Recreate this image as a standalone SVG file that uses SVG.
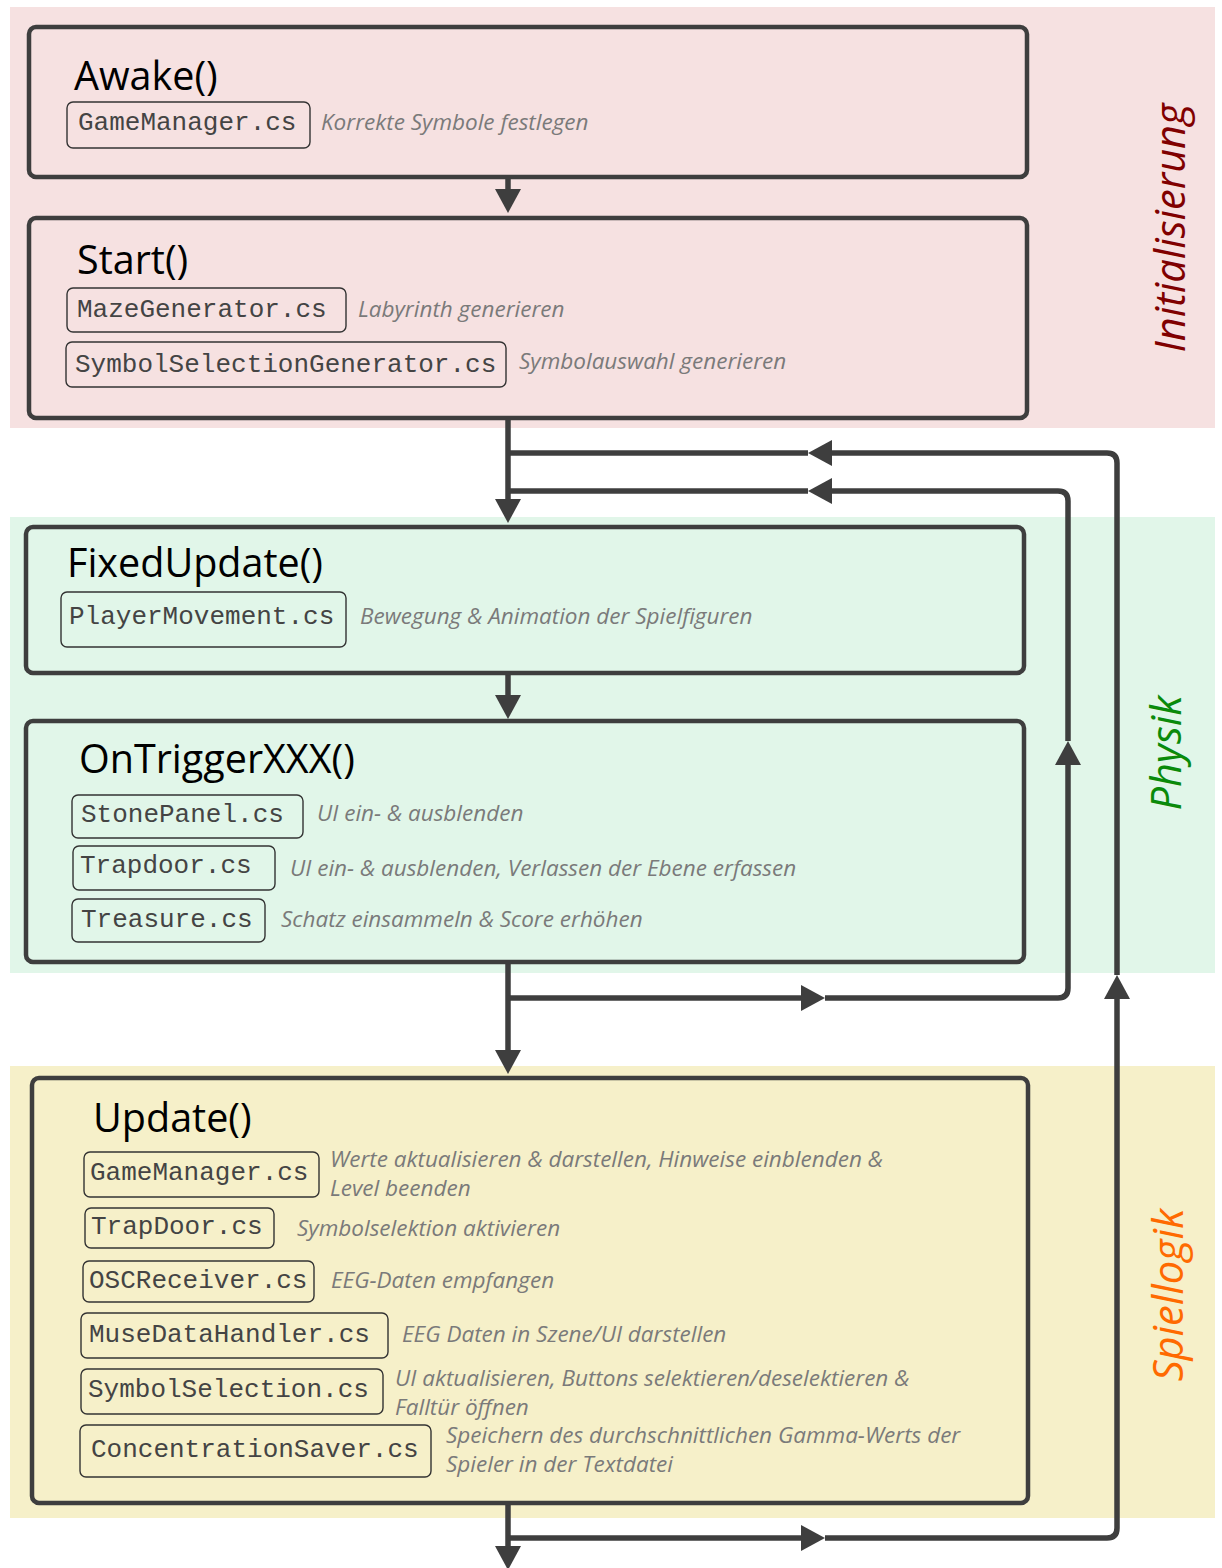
<svg xmlns="http://www.w3.org/2000/svg" width="1222" height="1568" viewBox="0 0 1222 1568">
<style>
.band-init{fill:#f6e1e1}
.band-phys{fill:#e1f6e9}
.band-logic{fill:#f6f0c9}
.box{fill:none;stroke:#3e3e3e;stroke-width:4.5}
.code{fill:none;stroke:#333;stroke-width:1.4}
.title{font-family:"Open Sans","Noto Sans",sans-serif;font-size:39.5px;fill:#000}
.mono{font-family:"Liberation Mono","Courier New",monospace;font-size:26px;fill:#444}
.desc{font-family:"Open Sans","Noto Sans",sans-serif;font-size:22.5px;font-style:italic;fill:#7a7a7a}
.side{font-family:"Open Sans","Noto Sans",sans-serif;font-size:41.5px;font-style:italic;text-anchor:middle}
.conn{fill:none;stroke:#3e3e3e;stroke-width:5.5}
</style>
<defs>
<marker id="arrow" markerUnits="userSpaceOnUse" markerWidth="26" markerHeight="26" refX="0" refY="13" orient="auto">
<path d="M0,0 L24,13 L0,26 z" fill="#3e3e3e"/>
</marker>
</defs>
<rect width="1222" height="1568" fill="#ffffff"/>
<g id="bands">
<rect class="band-init" x="10" y="7" width="1205" height="421"/>
<rect class="band-phys" x="10" y="517" width="1205" height="456"/>
<rect class="band-logic" x="10" y="1066" width="1205" height="452"/>
<text class="side" fill="#800000" transform="translate(1185,228) rotate(-90)">Initialisierung</text>
<text class="side" fill="#0a8a0a" transform="translate(1181,753) rotate(-90)">Physik</text>
<text class="side" fill="#ff6a00" transform="translate(1183,1295) rotate(-90)">Spiellogik</text>
</g>
<g id="connectors">
<path class="conn" d="M508,177 V189" marker-end="url(#arrow)"/>
<path class="conn" d="M508,418 V499" marker-end="url(#arrow)"/>
<path class="conn" d="M508,673 V695" marker-end="url(#arrow)"/>
<path class="conn" d="M508,962 V1050" marker-end="url(#arrow)"/>
<path class="conn" d="M508,1503 V1546" marker-end="url(#arrow)"/>
<path class="conn" d="M508,1538 H801" marker-end="url(#arrow)"/>
<path class="conn" d="M825,1538 H1107 Q1117,1538 1117,1528 V999" marker-end="url(#arrow)"/>
<path class="conn" d="M1117,975 V463 Q1117,453 1107,453 H832" marker-end="url(#arrow)"/>
<path class="conn" d="M808,453 H508"/>
<path class="conn" d="M508,998 H801" marker-end="url(#arrow)"/>
<path class="conn" d="M825,998 H1058 Q1068,998 1068,988 V765" marker-end="url(#arrow)"/>
<path class="conn" d="M1068,741 V501 Q1068,491 1058,491 H832" marker-end="url(#arrow)"/>
<path class="conn" d="M808,491 H508"/>
</g>
<g id="awake">
<rect class="box" x="29" y="27" width="998" height="150" rx="7"/>
<text class="title" x="74" y="90">Awake()</text>
<rect class="code" x="67" y="102" width="243" height="46" rx="6"/>
<text class="mono" x="78" y="130">GameManager.cs</text>
<text class="desc" x="321" y="130">Korrekte Symbole festlegen</text>
</g>
<g id="start">
<rect class="box" x="29" y="218" width="998" height="200" rx="7"/>
<text class="title" x="77" y="274">Start()</text>
<rect class="code" x="67" y="288" width="279" height="44" rx="6"/>
<text class="mono" x="77" y="317">MazeGenerator.cs</text>
<text class="desc" x="358" y="317">Labyrinth generieren</text>
<rect class="code" x="66" y="342" width="440" height="45" rx="6"/>
<text class="mono" x="75" y="372">SymbolSelectionGenerator.cs</text>
<text class="desc" x="519" y="369">Symbolauswahl generieren</text>
</g>
<g id="fixedupdate">
<rect class="box" x="26" y="527" width="998" height="146" rx="7"/>
<text class="title" x="67" y="577">FixedUpdate()</text>
<rect class="code" x="61" y="592" width="285" height="55" rx="6"/>
<text class="mono" x="69" y="624">PlayerMovement.cs</text>
<text class="desc" x="360" y="624">Bewegung &amp; Animation der Spielfiguren</text>
</g>
<g id="ontrigger">
<rect class="box" x="26" y="721" width="998" height="241" rx="7"/>
<text class="title" x="79" y="773">OnTriggerXXX()</text>
<rect class="code" x="72" y="795" width="231" height="43" rx="6"/>
<text class="mono" x="81" y="822">StonePanel.cs</text>
<text class="desc" x="317" y="821">UI ein- &amp; ausblenden</text>
<rect class="code" x="73" y="846" width="202" height="44" rx="6"/>
<text class="mono" x="80" y="873">Trapdoor.cs</text>
<text class="desc" x="290" y="876">UI ein- &amp; ausblenden, Verlassen der Ebene  erfassen</text>
<rect class="code" x="72" y="899" width="193" height="43" rx="6"/>
<text class="mono" x="81" y="927">Treasure.cs</text>
<text class="desc" x="281" y="927">Schatz einsammeln &amp; Score erhöhen</text>
</g>
<g id="update">
<rect class="box" x="32" y="1078" width="996" height="425" rx="7"/>
<text class="title" x="93" y="1132">Update()</text>
<rect class="code" x="84" y="1152" width="235" height="45" rx="6"/>
<text class="mono" x="90" y="1180">GameManager.cs</text>
<text class="desc" x="330" y="1167">Werte aktualisieren &amp; darstellen, Hinweise einblenden &amp;</text>
<text class="desc" x="330" y="1196">Level beenden</text>
<rect class="code" x="85" y="1208" width="189" height="40" rx="6"/>
<text class="mono" x="91" y="1234">TrapDoor.cs</text>
<text class="desc" x="297" y="1236">Symbolselektion aktivieren</text>
<rect class="code" x="83" y="1261" width="231" height="41" rx="6"/>
<text class="mono" x="89" y="1288">OSCReceiver.cs</text>
<text class="desc" x="331" y="1288">EEG-Daten empfangen</text>
<rect class="code" x="81" y="1313" width="307" height="45" rx="6"/>
<text class="mono" x="89" y="1342">MuseDataHandler.cs</text>
<text class="desc" x="402" y="1342">EEG Daten in Szene/UI darstellen</text>
<rect class="code" x="81" y="1369" width="302" height="45" rx="6"/>
<text class="mono" x="88" y="1397">SymbolSelection.cs</text>
<text class="desc" x="395" y="1386">UI aktualisieren, Buttons selektieren/deselektieren &amp;</text>
<text class="desc" x="395" y="1415">Falltür öffnen</text>
<rect class="code" x="80" y="1425" width="351" height="52" rx="6"/>
<text class="mono" x="91" y="1457">ConcentrationSaver.cs</text>
<text class="desc" x="446" y="1443">Speichern des durchschnittlichen Gamma-Werts der</text>
<text class="desc" x="446" y="1472">Spieler  in der Textdatei</text>
</g>
</svg>
